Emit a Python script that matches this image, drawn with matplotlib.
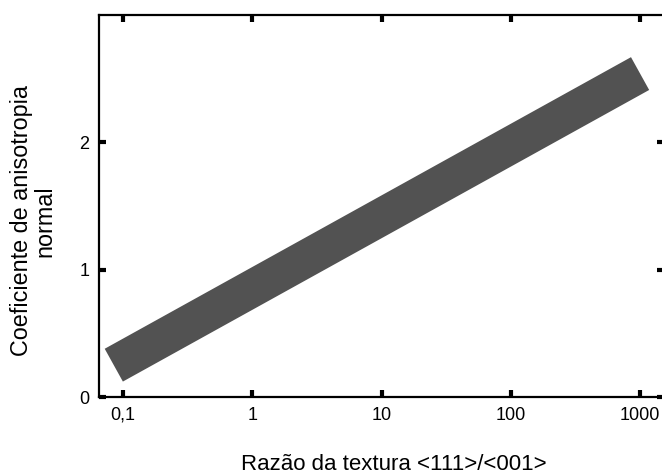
import numpy as np
import matplotlib
matplotlib.use("Agg")
import matplotlib.pyplot as plt

plt.rcParams['font.family'] = ['Liberation Sans', 'DejaVu Sans']

# Band showing normal anisotropy coefficient vs texture ratio
band_x = [0.085, 1000]
band_y = [0.25, 2.54]

x_ticks = [0.1, 1, 10, 100, 1000]
x_tick_labels = ["0,1", "1", "10", "100", "1000"]
y_ticks = [0, 1, 2]
y_tick_labels = ["0", "1", "2"]

fig = plt.figure(figsize=(6.62, 4.75), dpi=100)
ax = fig.add_axes([99 / 662, 1 - 397 / 475, (664 - 99) / 662, (397 - 15) / 475])

ax.plot(band_x, band_y, color="#525252", linewidth=27, solid_capstyle="butt")

ax.set_xscale("log")
ax.set_xlim(10 ** -1.185, 10 ** 3.185)
ax.set_ylim(0, 3.0)

ax.set_xticks(x_ticks)
ax.set_xticklabels(x_tick_labels)
ax.set_yticks(y_ticks)
ax.set_yticklabels(y_tick_labels)
ax.minorticks_off()
ax.tick_params(which="major", direction="in", length=5, width=3,
               top=True, right=True, labelsize=13, pad=7)

for s in ax.spines.values():
    s.set_linewidth(1.6)

fig.text(33 / 662, 1 - 221 / 475, "Coeficiente de anisotropia\nnormal",
         fontsize=16.8, rotation=90, ha="center", va="center",
         multialignment="center", linespacing=1.05)
fig.text(394 / 662, 1 - 464 / 475, "Razão da textura <111>/<001>",
         fontsize=16, ha="center", va="center")

fig.savefig("out.png", dpi=100)
